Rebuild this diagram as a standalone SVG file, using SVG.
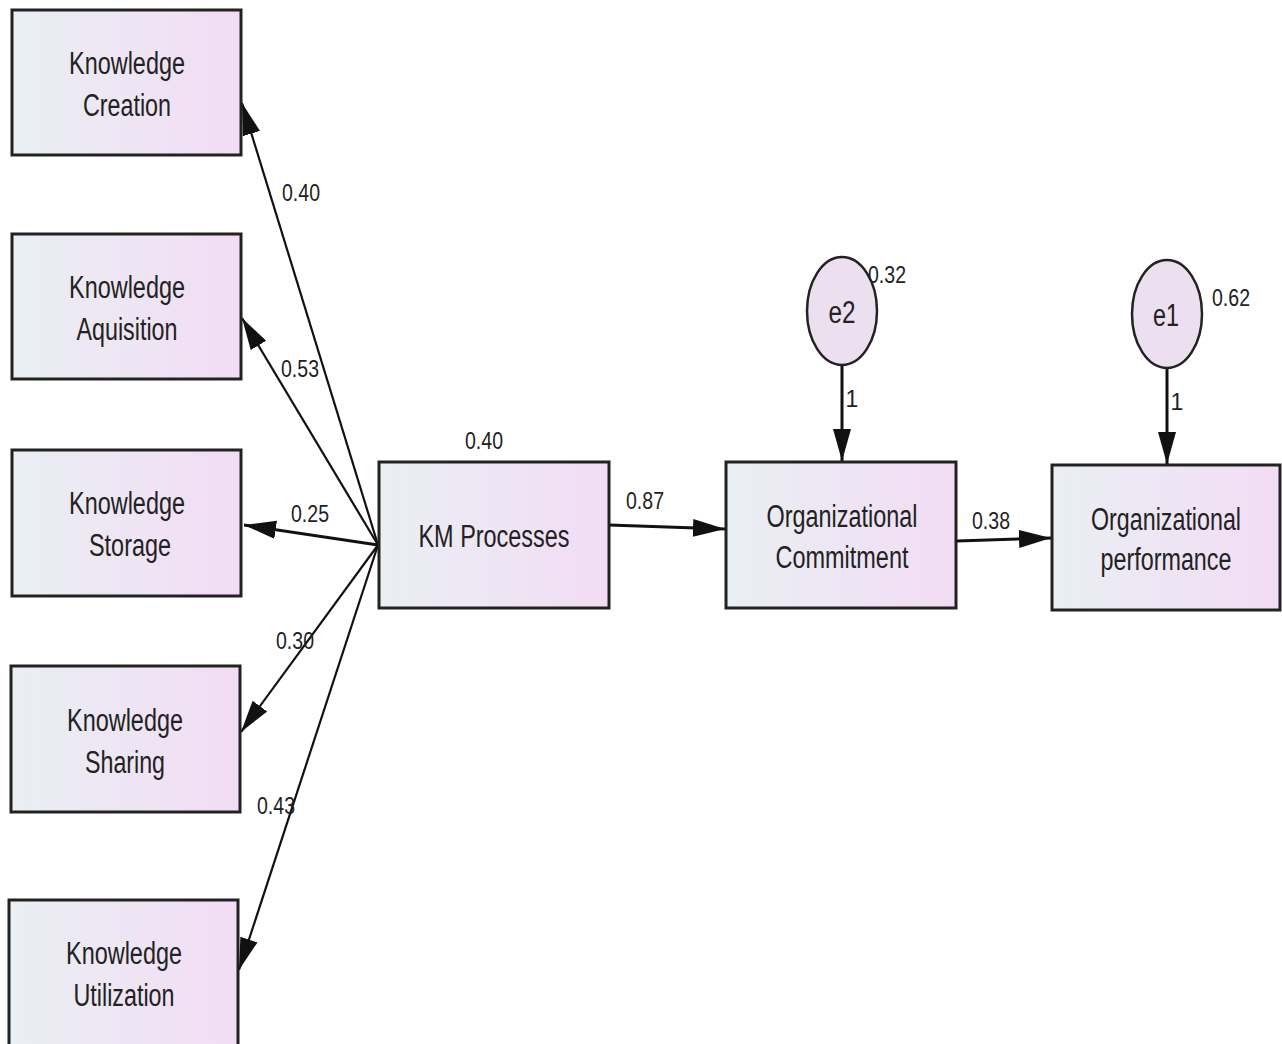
<svg xmlns="http://www.w3.org/2000/svg" width="1282" height="1044" viewBox="0 0 1282 1044">
<style>
.box{stroke:#222;stroke-width:3;fill:url(#g)}
.ell{stroke:#222;stroke-width:2.5;fill:#ecdff0}
.lbl{font-family:"Liberation Sans",Arial,sans-serif;font-size:31px;fill:#222;text-anchor:middle}
.num{font-family:"Liberation Sans",Arial,sans-serif;font-size:23px;fill:#222;text-anchor:middle}
.edge{stroke:#111;stroke-width:2.2;fill:none;marker-end:url(#ah)}
.edge2{stroke:#111;stroke-width:3;fill:none;marker-end:url(#ah)}
</style>
<defs>
<linearGradient id="g" x1="0" y1="0" x2="1" y2="0">
<stop offset="0" stop-color="#e9eff3"/>
<stop offset="1" stop-color="#f3dcf5"/>
</linearGradient>
<marker id="ah" markerUnits="userSpaceOnUse" markerWidth="32" markerHeight="24" viewBox="0 0 32 24" refX="32" refY="12" orient="auto">
<path d="M0,3 L32,12 L0,21 Z" fill="#111"/>
</marker>
</defs>
<rect width="1282" height="1044" fill="#fff"/>
<g id="connectors">
<line class="edge" x1="378" y1="545" x2="242" y2="103"/>
<line class="edge" x1="378" y1="545" x2="242" y2="318"/>
<line class="edge2" x1="378" y1="545" x2="244" y2="525"/>
<line class="edge" x1="378" y1="545" x2="241" y2="732"/>
<line class="edge" x1="378" y1="545" x2="239" y2="970"/>
<line class="edge2" x1="609" y1="525" x2="725" y2="529"/>
<line class="edge2" x1="957" y1="541" x2="1051" y2="538"/>
<line class="edge2" x1="842" y1="366" x2="842" y2="461"/>
<line class="edge2" x1="1167" y1="369" x2="1167" y2="464"/>
</g>
<g id="kc"><rect class="box" x="12" y="10" width="229" height="145"/>
<text class="lbl" x="127" y="74" textLength="116" lengthAdjust="spacingAndGlyphs">Knowledge</text>
<text class="lbl" x="127" y="116" textLength="88" lengthAdjust="spacingAndGlyphs">Creation</text></g>
<g id="ka"><rect class="box" x="12" y="234" width="229" height="145"/>
<text class="lbl" x="127" y="298" textLength="116" lengthAdjust="spacingAndGlyphs">Knowledge</text>
<text class="lbl" x="127" y="340" textLength="101" lengthAdjust="spacingAndGlyphs">Aquisition</text></g>
<g id="ks"><rect class="box" x="12" y="450" width="229" height="146"/>
<text class="lbl" x="127" y="514" textLength="116" lengthAdjust="spacingAndGlyphs">Knowledge</text>
<text class="lbl" x="130" y="556" textLength="82" lengthAdjust="spacingAndGlyphs">Storage</text></g>
<g id="ksh"><rect class="box" x="11" y="666" width="229" height="146"/>
<text class="lbl" x="125" y="731" textLength="116" lengthAdjust="spacingAndGlyphs">Knowledge</text>
<text class="lbl" x="125" y="773" textLength="80" lengthAdjust="spacingAndGlyphs">Sharing</text></g>
<g id="ku"><rect class="box" x="9" y="900" width="229" height="150"/>
<text class="lbl" x="124" y="964" textLength="116" lengthAdjust="spacingAndGlyphs">Knowledge</text>
<text class="lbl" x="124" y="1006" textLength="101" lengthAdjust="spacingAndGlyphs">Utilization</text></g>
<g id="km"><rect class="box" x="379" y="462" width="230" height="146"/>
<text class="lbl" x="494" y="547" textLength="151" lengthAdjust="spacingAndGlyphs">KM Processes</text></g>
<g id="oc"><rect class="box" x="726" y="462" width="230" height="146"/>
<text class="lbl" x="842" y="527" textLength="151" lengthAdjust="spacingAndGlyphs">Organizational</text>
<text class="lbl" x="842" y="568" textLength="133" lengthAdjust="spacingAndGlyphs">Commitment</text></g>
<g id="op"><rect class="box" x="1052" y="465" width="228" height="145"/>
<text class="lbl" x="1166" y="530" textLength="150" lengthAdjust="spacingAndGlyphs">Organizational</text>
<text class="lbl" x="1166" y="570" textLength="131" lengthAdjust="spacingAndGlyphs">performance</text></g>
<g id="e2"><ellipse class="ell" cx="842" cy="311" rx="35" ry="54"/>
<text class="lbl" x="842" y="323" textLength="27" lengthAdjust="spacingAndGlyphs">e2</text></g>
<g id="e1"><ellipse class="ell" cx="1167" cy="314" rx="35" ry="54"/>
<text class="lbl" x="1166" y="326" textLength="26" lengthAdjust="spacingAndGlyphs">e1</text></g>
<g id="labels">
<text class="num" x="301" y="201" textLength="38" lengthAdjust="spacingAndGlyphs">0.40</text>
<text class="num" x="300" y="377" textLength="38" lengthAdjust="spacingAndGlyphs">0.53</text>
<text class="num" x="310" y="522" textLength="38" lengthAdjust="spacingAndGlyphs">0.25</text>
<text class="num" x="295" y="649" textLength="38" lengthAdjust="spacingAndGlyphs">0.30</text>
<text class="num" x="276" y="814" textLength="38" lengthAdjust="spacingAndGlyphs">0.43</text>
<text class="num" x="484" y="449" textLength="38" lengthAdjust="spacingAndGlyphs">0.40</text>
<text class="num" x="645" y="509" textLength="38" lengthAdjust="spacingAndGlyphs">0.87</text>
<text class="num" x="991" y="529" textLength="38" lengthAdjust="spacingAndGlyphs">0.38</text>
<text class="num" x="887" y="283" textLength="38" lengthAdjust="spacingAndGlyphs">0.32</text>
<text class="num" x="1231" y="306" textLength="38" lengthAdjust="spacingAndGlyphs">0.62</text>
<text class="num" x="852" y="407">1</text>
<text class="num" x="1177" y="410">1</text>
</g>
</svg>
